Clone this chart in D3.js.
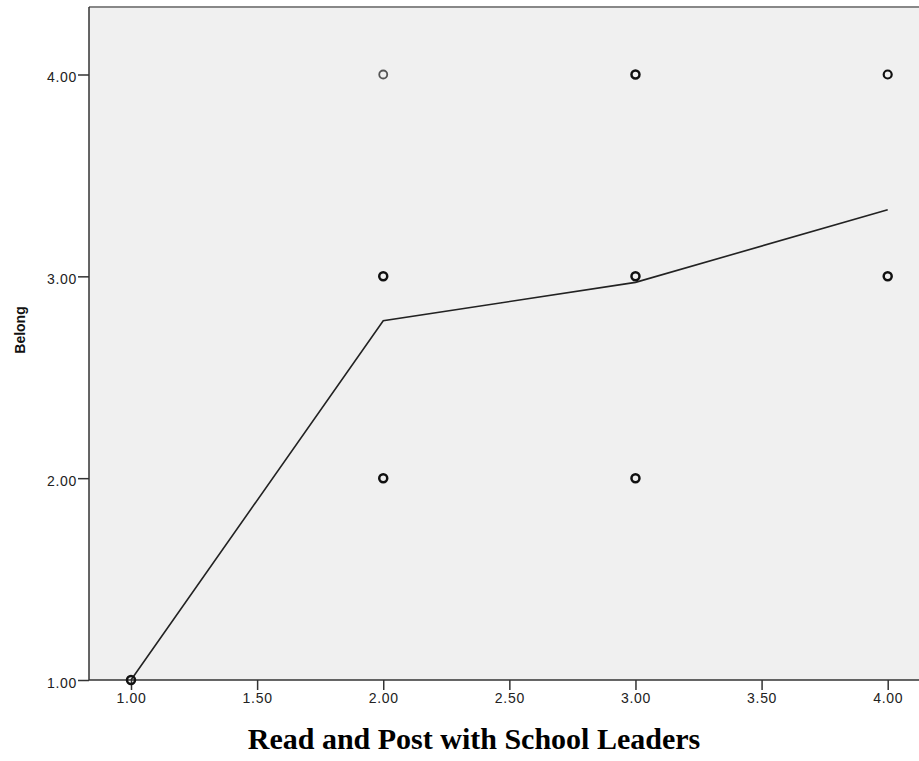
<!DOCTYPE html>
<html><head><meta charset="utf-8">
<script src="https://cdn.jsdelivr.net/npm/d3@7"></script>
<style>body{margin:0;background:#fff}</style>
</head><body><svg id="c" width="919" height="761"></svg>
<script>
const xTicks = [1.00, 1.50, 2.00, 2.50, 3.00, 3.50, 4.00];
const yTicks = [1.00, 2.00, 3.00, 4.00];
const pointX = [1, 2, 2, 2, 3, 3, 3, 4, 4];
const pointY = [1, 4, 3, 2, 4, 3, 2, 4, 3];
const pointN = [3, 1, 3, 3, 3, 4, 3, 2, 3];
const lineX = [1, 2, 3, 4];
const lineY = [1.00, 2.78, 2.97, 3.33];
const xTitle = "Read and Post with School Leaders";
const yTitle = "Belong";

const svg = d3.select("#c");
const L = 89, R = 920, T = 7, B = 680;
const x = d3.scaleLinear().domain([1, 4]).range([131, 887.7]);
const y = d3.scaleLinear().domain([1, 4]).range([680, 74.5]);

svg.append("rect").attr("x", L).attr("y", T).attr("width", R - L).attr("height", B - T).attr("fill", "#f0f0f0");
svg.append("line").attr("x1", L).attr("x2", R).attr("y1", T).attr("y2", T).attr("stroke", "#888").attr("stroke-width", 2);

const xa = svg.append("g").attr("transform", `translate(0,${B})`)
  .call(d3.axisBottom(x).tickValues(xTicks).tickFormat(d3.format(".2f")).tickSize(10).tickPadding(3));
xa.select(".domain").remove();
svg.append("line").attr("x1", L).attr("x2", R).attr("y1", B).attr("y2", B).attr("stroke", "#333").attr("stroke-width", 1.5);

const ya = svg.append("g").attr("transform", `translate(${L},0)`)
  .call(d3.axisLeft(y).tickValues(yTicks).tickFormat(d3.format(".2f")).tickSize(11).tickPadding(1));
ya.select(".domain").remove();
svg.append("line").attr("x1", L).attr("x2", L).attr("y1", T).attr("y2", B).attr("stroke", "#333").attr("stroke-width", 1.5);

svg.selectAll(".tick line").attr("stroke", "#333").attr("stroke-width", 1.5);
svg.selectAll(".tick text").attr("font-family", "Arial, 'Liberation Sans', sans-serif").attr("font-size", 14)
  .attr("letter-spacing", 0.7).attr("fill", "#222");
ya.selectAll(".tick text").attr("dy", "0.5em");

const line = d3.line().x((d, i) => x(lineX[i])).y(d => y(d));
svg.append("path").datum(lineY).attr("d", line).attr("fill", "none").attr("stroke", "#222").attr("stroke-width", 1.6);

svg.selectAll("circle.p").data(pointX).enter().append("circle").attr("class", "p")
  .attr("cx", d => x(d)).attr("cy", (d, i) => y(pointY[i])).attr("r", 4)
  .attr("fill", "none").attr("stroke", (d, i) => pointN[i] > 1 ? "#111" : "#555")
  .attr("stroke-width", (d, i) => pointN[i] > 2 ? 2.5 : (pointN[i] > 1 ? 2.2 : 1.8));

svg.append("text").attr("x", 474).attr("y", 749).attr("text-anchor", "middle")
  .attr("font-family", "'Times New Roman', 'Liberation Serif', serif").attr("font-weight", "bold").attr("font-size", 30).attr("fill", "#000").text(xTitle);
svg.append("text").attr("transform", "translate(25,330) rotate(-90)").attr("text-anchor", "middle")
  .attr("font-family", "Arial, 'Liberation Sans', sans-serif").attr("font-weight", "bold").attr("font-size", 14).attr("fill", "#111").text(yTitle);
</script></body></html>
